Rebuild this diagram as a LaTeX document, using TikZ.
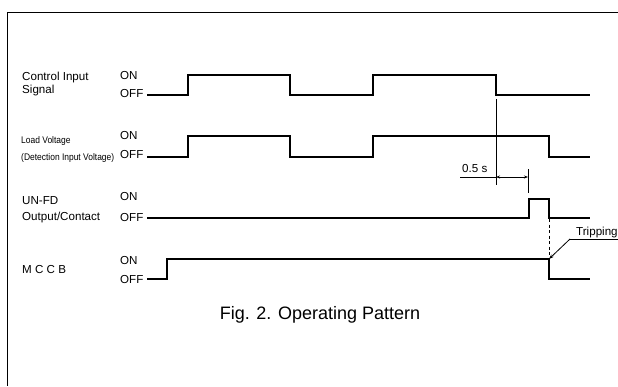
\documentclass[tikz,border=0pt]{standalone}
\usepackage{fontspec}
\setmainfont{Liberation Sans}
\usetikzlibrary{arrows.meta}

\begin{document}
\begin{tikzpicture}[x=1pt, y=-1pt,
  lbl/.style={anchor=base west, inner sep=0pt, font=\fontsize{11.6}{13}\selectfont},
  small/.style={lbl, font=\fontsize{9.6}{11}\selectfont},
  wave/.style={line width=1.1pt, line join=miter},
  dim/.style={line width=0.9pt},
  arrow/.style={-{Stealth[length=5pt, width=3.5pt]}, line width=0.8pt},
  dimarrow/.style={{Stealth[length=4pt, width=3pt]}-{Stealth[length=4pt, width=3pt]}, line width=0.9pt}
]
\useasboundingbox (0,0) rectangle (618,386);
\draw[line width=1.4pt] (618,12.5) -- (7.5,12.5) -- (7.5,386);

\node[lbl] (cis) at (22,80.5) {Control Input};
\node[lbl] (sig) at (22,93) {Signal};
\node[lbl] (on1) at (120,79.5) {ON};
\node[lbl] (off1) at (120,97.5) {OFF};

\node[small] (ldv) at (21,143.5) {\scalebox{0.88}[1]{Load Voltage}};
\node[small] (div) at (21,160) {\scalebox{0.88}[1]{(Detection Input Voltage)}};
\node[lbl] (on2) at (120,139.5) {ON};
\node[lbl] (off2) at (120,158.5) {OFF};

\node[lbl] (unfd) at (22,204) {UN-FD};
\node[lbl] (outc) at (22,220.5) {Output/Contact};
\node[lbl] (on3) at (120,200.5) {ON};
\node[lbl] (off3) at (120,221) {OFF};

\node[lbl] (mccb) at (22,273.5) {M C C B};
\node[lbl] (on4) at (120,264) {ON};
\node[lbl] (off4) at (120,283) {OFF};

\draw[wave] (147,95) -- (188,95) -- (188,75) -- (290,75) -- (290,95) -- (373,95) -- (373,75) -- (496,75) -- (496,95) -- (590,95);
\draw[wave] (147,157) -- (188,157) -- (188,136) -- (290,136) -- (290,157) -- (373,157) -- (373,136) -- (549,136) -- (549,157) -- (590,157);
\draw[wave] (147,218) -- (529,218) -- (529,199) -- (549,199) -- (549,218) -- (590,218);
\draw[wave] (147,279) -- (167,279) -- (167,259) -- (549,259) -- (549,279) -- (590,279);

\coordinate (d1) at (496,177);
\coordinate (d2) at (528,177);
\draw[dim] (496,99) -- (496,185);
\draw[dim] (528,169) -- (528,193);
\draw[dim] (460,177) -- (d1);
\draw[dimarrow] (d1) -- (d2);
\node[lbl] (dt) at (462,172.5) {0.5 s};

\draw[dim, dash pattern=on 3pt off 2.5pt] (549,219) -- (549,258);

\coordinate (trip) at (549,259);
\coordinate (tk) at (570,239);
\node[lbl] (trp) at (576,235.5) {Tripping};
\draw[dim] (tk) -- (618,239);
\draw[arrow] (tk) -- (trip);

\node[anchor=base, inner sep=0pt, font=\fontsize{18}{20}\selectfont] (cap) at (320,319.5) {Fig. 2. Operating Pattern};
\end{tikzpicture}
\end{document}
